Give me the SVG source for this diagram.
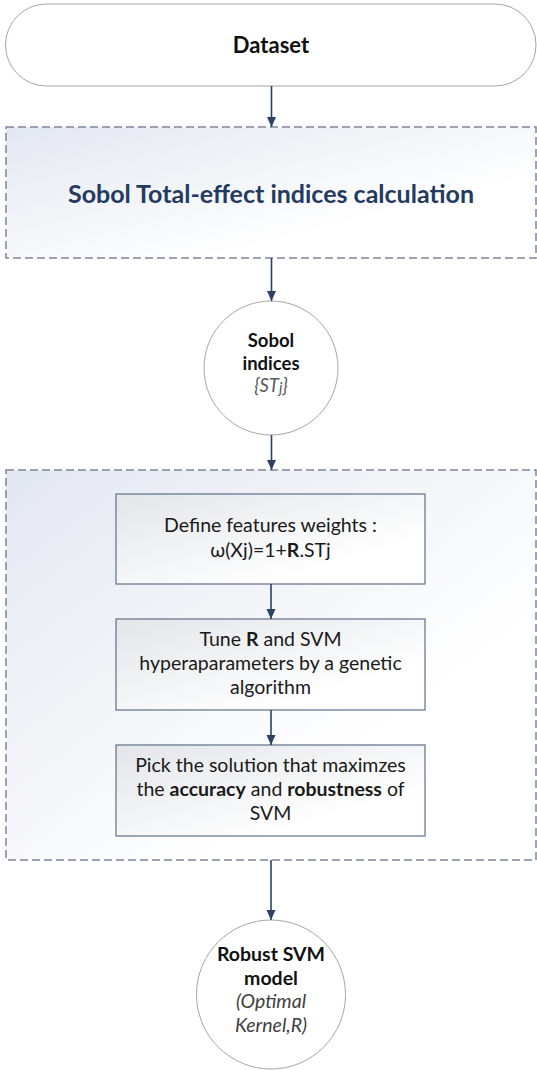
<svg xmlns="http://www.w3.org/2000/svg" width="537" height="1070" viewBox="0 0 537 1070">
<style>
.term{fill:#fff;stroke:#a6a6a6;stroke-width:1}
.dash{fill:url(#gDash);stroke:#7d8698;stroke-width:1.5;stroke-dasharray:8 4}
.box{fill:url(#gBox);stroke:#5d7189;stroke-width:1.2}
.conn{stroke:#2b4268;stroke-width:1.6;fill:none;marker-end:url(#ah)}
text{font-family:Lato,"Liberation Sans",sans-serif;text-anchor:middle}
.b{font-weight:bold;fill:#111}
.t{font-size:19.5px;fill:#1a1a1a}
.it{font-style:italic}
</style>
<defs>
<linearGradient id="gDash" x1="0" y1="0" x2="1" y2="1">
<stop offset="0" stop-color="#e3e7f0"/>
<stop offset="0.7" stop-color="#ffffff"/>
</linearGradient>
<linearGradient id="gBox" x1="0" y1="0" x2="1" y2="1">
<stop offset="0" stop-color="#e3e5e9"/>
<stop offset="0.75" stop-color="#ffffff"/>
</linearGradient>
<marker id="ah" viewBox="0 0 10 10" refX="10" refY="5" markerWidth="10" markerHeight="10" markerUnits="userSpaceOnUse" orient="auto">
<path d="M0,0.5 L10,5 L0,9.5 z" fill="#2b4268"/>
</marker>
</defs>

<g id="dataset">
<rect class="term" x="5.5" y="4" width="530.5" height="82" rx="41" ry="41"/>
<text class="b" x="271" y="53" font-size="22">Dataset</text>
</g>

<g id="sobol-calc">
<rect class="dash" x="6" y="127" width="530" height="131"/>
<text x="271" y="203" font-size="25" font-weight="bold" fill="#233a61">Sobol Total-effect indices calculation</text>
</g>

<g id="sobol-indices">
<circle class="term" cx="271" cy="368" r="67"/>
<text class="b" x="271" y="347" font-size="18.5">Sobol</text>
<text class="b" x="271" y="370" font-size="18.5">indices</text>
<text class="it" x="271" y="392" font-size="18.5" fill="#595959">{ST<tspan font-size="15" dy="1">j</tspan><tspan dy="-1">}</tspan></text>
</g>

<g id="weighting-stage">
<rect class="dash" x="6" y="470" width="530" height="390"/>
</g>

<g id="define-weights">
<rect class="box" x="116" y="494" width="309" height="90"/>
<text class="t" x="270.5" y="532">Define features weights :</text>
<text class="t" x="270.5" y="557">ω(Xj)=1+<tspan font-weight="bold">R</tspan>.STj</text>
</g>

<g id="tune">
<rect class="box" x="116" y="619" width="309" height="91"/>
<text class="t" x="270.5" y="646">Tune <tspan font-weight="bold">R</tspan> and SVM</text>
<text class="t" x="270.5" y="670">hyperaparameters by a genetic</text>
<text class="t" x="270.5" y="694">algorithm</text>
</g>

<g id="pick">
<rect class="box" x="116" y="745" width="309" height="91"/>
<text class="t" x="270.5" y="772">Pick the solution that maximzes</text>
<text class="t" x="270.5" y="796">the <tspan font-weight="bold">accuracy</tspan> and <tspan font-weight="bold">robustness</tspan> of</text>
<text class="t" x="270.5" y="820">SVM</text>
</g>

<g id="robust-svm">
<circle class="term" cx="271" cy="994.5" r="74.5"/>
<text class="b" x="271" y="961" font-size="19.5">Robust SVM</text>
<text class="b" x="271" y="985" font-size="19.5">model</text>
<text class="it" x="271" y="1008" font-size="19.5" fill="#404040">(Optimal</text>
<text class="it" x="271" y="1032" font-size="19.5" fill="#404040">Kernel,R)</text>
</g>

<g id="connectors">
<line class="conn" x1="271.5" y1="86" x2="271.5" y2="127"/>
<line class="conn" x1="271.5" y1="258" x2="271.5" y2="301"/>
<line class="conn" x1="271.5" y1="435" x2="271.5" y2="470"/>
<line class="conn" x1="271" y1="584" x2="271" y2="619"/>
<line class="conn" x1="271" y1="710" x2="271" y2="745"/>
<line class="conn" x1="271" y1="860" x2="271" y2="920"/>
</g>
</svg>
